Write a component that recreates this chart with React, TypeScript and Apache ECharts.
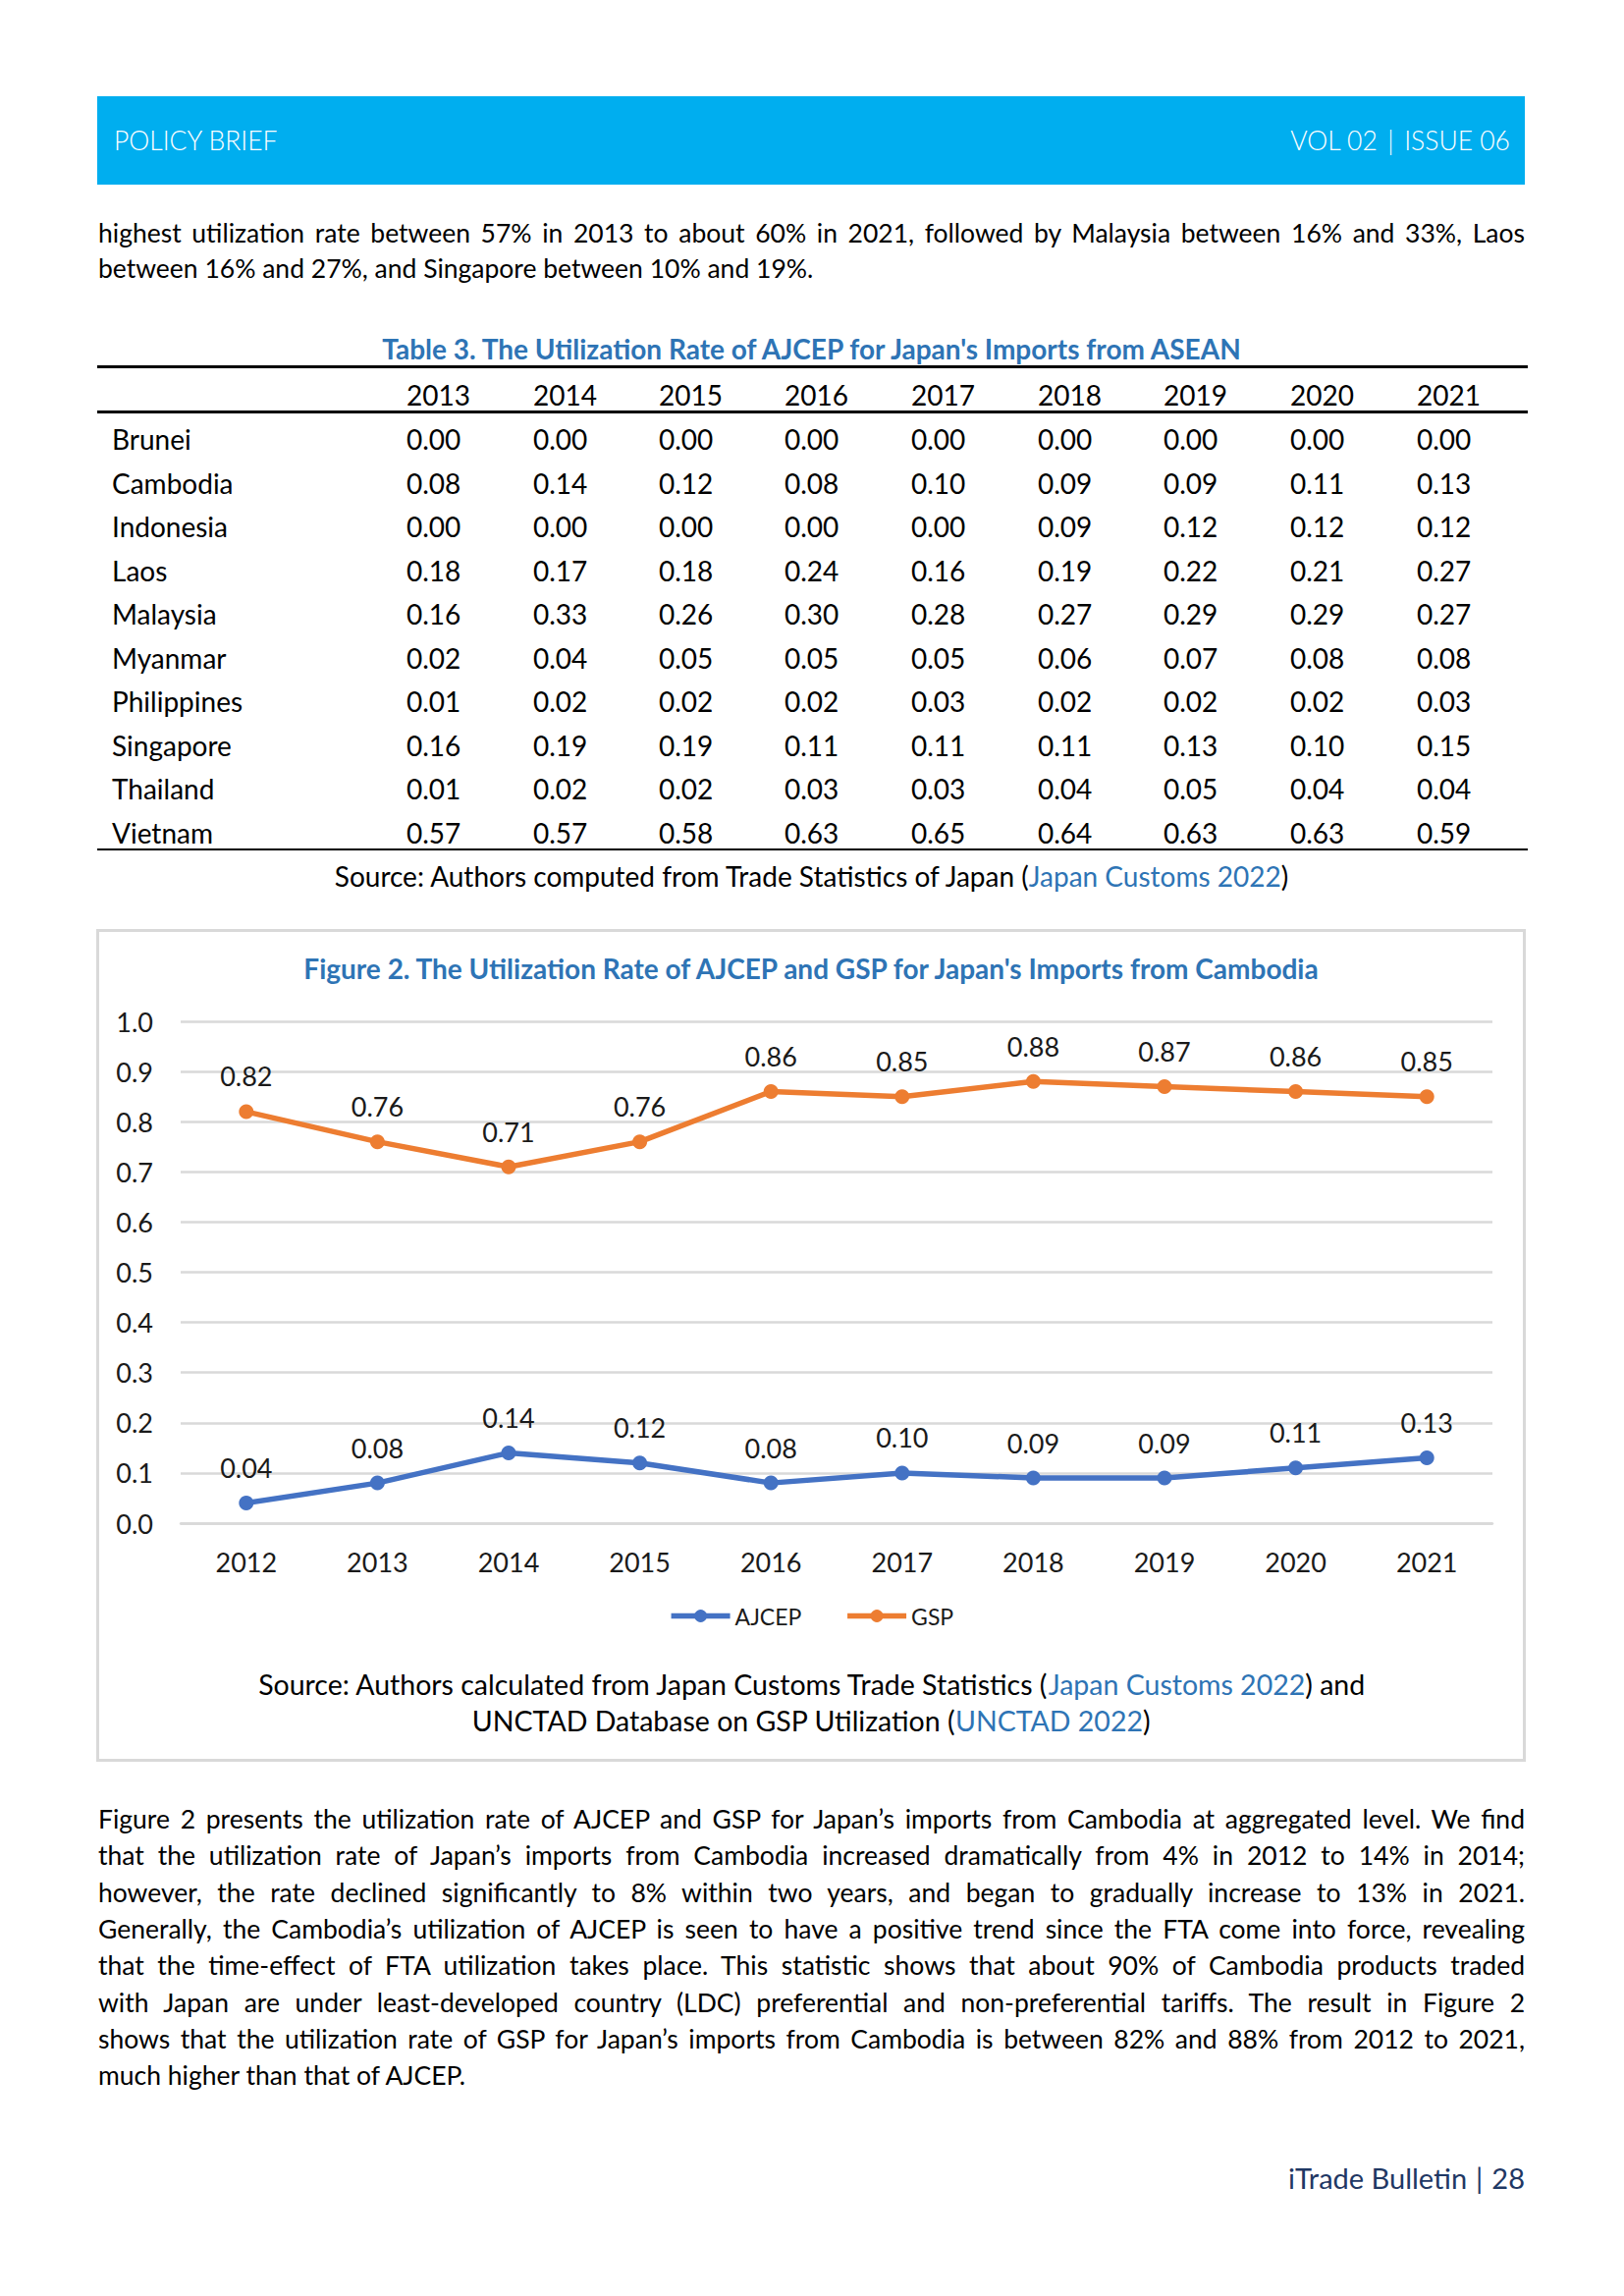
import React, { useEffect, useRef } from "react";
import * as echarts from "echarts";

const FONT = "Lato, 'Open Sans', 'DejaVu Sans', sans-serif";

// ---- Chart data (Figure 2) ----
const years = ["2012", "2013", "2014", "2015", "2016", "2017", "2018", "2019", "2020", "2021"];
const ajcep = [0.04, 0.08, 0.14, 0.12, 0.08, 0.10, 0.09, 0.09, 0.11, 0.13];
const gsp = [0.82, 0.76, 0.71, 0.76, 0.86, 0.85, 0.88, 0.87, 0.86, 0.85];
const yMin = 0;
const yMax = 1.0;
const yStep = 0.1;

// ---- Table 3 data ----
const tableYears = ["2013", "2014", "2015", "2016", "2017", "2018", "2019", "2020", "2021"];
const countries = ["Brunei", "Cambodia", "Indonesia", "Laos", "Malaysia", "Myanmar", "Philippines", "Singapore", "Thailand", "Vietnam"];
const brunei = ["0.00", "0.00", "0.00", "0.00", "0.00", "0.00", "0.00", "0.00", "0.00"];
const cambodia = ["0.08", "0.14", "0.12", "0.08", "0.10", "0.09", "0.09", "0.11", "0.13"];
const indonesia = ["0.00", "0.00", "0.00", "0.00", "0.00", "0.09", "0.12", "0.12", "0.12"];
const laos = ["0.18", "0.17", "0.18", "0.24", "0.16", "0.19", "0.22", "0.21", "0.27"];
const malaysia = ["0.16", "0.33", "0.26", "0.30", "0.28", "0.27", "0.29", "0.29", "0.27"];
const myanmar = ["0.02", "0.04", "0.05", "0.05", "0.05", "0.06", "0.07", "0.08", "0.08"];
const philippines = ["0.01", "0.02", "0.02", "0.02", "0.03", "0.02", "0.02", "0.02", "0.03"];
const singapore = ["0.16", "0.19", "0.19", "0.11", "0.11", "0.11", "0.13", "0.10", "0.15"];
const thailand = ["0.01", "0.02", "0.02", "0.03", "0.03", "0.04", "0.05", "0.04", "0.04"];
const vietnam = ["0.57", "0.57", "0.58", "0.63", "0.65", "0.64", "0.63", "0.63", "0.59"];
const tableRows = [brunei, cambodia, indonesia, laos, malaysia, myanmar, philippines, singapore, thailand, vietnam];

// ---- Text ----
const topLines = [
  "highest utilization rate between 57% in 2013 to about 60% in 2021, followed by Malaysia between 16% and 33%, Laos",
  "between 16% and 27%, and Singapore between 10% and 19%.",
];
const bottomLines = [
  "Figure 2 presents the utilization rate of AJCEP and GSP for Japan\u2019s imports from Cambodia at aggregated level. We find",
  "that the utilization rate of Japan\u2019s imports from Cambodia increased dramatically from 4% in 2012 to 14% in 2014;",
  "however, the rate declined significantly to 8% within two years, and began to gradually increase to 13% in 2021.",
  "Generally, the Cambodia\u2019s utilization of AJCEP is seen to have a positive trend since the FTA come into force, revealing",
  "that the time-effect of FTA utilization takes place. This statistic shows that about 90% of Cambodia products traded",
  "with Japan are under least-developed country (LDC) preferential and non-preferential tariffs. The result in Figure 2",
  "shows that the utilization rate of GSP for Japan\u2019s imports from Cambodia is between 82% and 88% from 2012 to 2021,",
  "much higher than that of AJCEP.",
];

const BLUE_TITLE = "#2E74B5";
const LINK = "#2E74B5";
const TEXT = "#000000";
const PARA_FS = 26.5;
const TABLE_FS = 28;

const colX = [414, 543, 671, 799, 928, 1057, 1185, 1314, 1443];

function Line({ text, top, justify }: { text: string; top: number; justify: boolean }) {
  return (
    <div
      style={{
        position: "absolute",
        left: 100,
        top: top - 19,
        width: 1453,
        height: 38,
        lineHeight: "38px",
        fontSize: PARA_FS,
        whiteSpace: "nowrap",
        textAlign: justify ? "justify" : "left",
        textAlignLast: justify ? "justify" : "left",
        color: TEXT,
      } as any}
    >
      {text}
    </div>
  );
}

function Chart() {
  const ref = useRef<HTMLDivElement>(null);
  useEffect(() => {
    if (!ref.current) return;
    const chart = echarts.init(ref.current, null, { renderer: "svg" });
    const labelStyle = {
      show: true,
      position: "top",
      distance: 15,
      fontSize: 27,
      fontFamily: FONT,
      color: "#1a1a1a",
      formatter: (p: any) => Number(p.value).toFixed(2),
    };
    chart.setOption({
      animation: false,
      textStyle: { fontFamily: FONT },
      title: [
        {
          text: "Figure 2. The Utilization Rate of AJCEP and GSP for Japan's Imports from Cambodia",
          left: "center",
          top: 26,
          padding: 0,
          textStyle: { fontFamily: FONT, fontSize: 28, fontWeight: "bold", color: BLUE_TITLE },
        },
        {
          text:
            "Source: Authors calculated from Japan Customs Trade Statistics ({a|Japan Customs 2022}) and\nUNCTAD Database on GSP Utilization ({a|UNCTAD 2022})",
          left: "center",
          top: 750,
          padding: 0,
          textStyle: {
            fontFamily: FONT,
            fontSize: 28.5,
            fontWeight: "normal",
            color: TEXT,
            lineHeight: 37,
            align: "center",
            rich: {
              a: { fontFamily: FONT, fontSize: 28.5, color: LINK, lineHeight: 37 },
            },
          },
        },
      ],
      legend: {
        data: ["AJCEP", "GSP"],
        left: "center",
        top: 688,
        padding: 0,
        itemWidth: 60,
        itemHeight: 16,
        itemGap: 44,
        lineStyle: { width: 5.5 },
        textStyle: { fontFamily: FONT, fontSize: 23, color: "#1a1a1a" },
      },
      grid: { left: 86, right: 34, top: 94, bottom: 243, containLabel: false, outerBoundsMode: "none" },
      xAxis: {
        type: "category",
        data: years,
        boundaryGap: true,
        axisTick: { show: false },
        axisLine: { show: true, lineStyle: { color: "#D9D9D9", width: 2.5 } },
        axisLabel: { fontFamily: FONT, fontSize: 27, color: "#1a1a1a", margin: 26 },
      },
      yAxis: {
        type: "value",
        min: yMin,
        max: yMax,
        interval: yStep,
        axisLine: { show: false },
        axisTick: { show: false },
        axisLabel: {
          fontFamily: FONT,
          fontSize: 27,
          color: "#1a1a1a",
          margin: 28,
          formatter: (v: number) => v.toFixed(1),
        },
        splitLine: { show: true, lineStyle: { color: "#D9D9D9", width: 2.5 } },
      },
      graphic: [
        {
          type: "rect",
          silent: true,
          shape: { x: 1.5, y: 1.5, width: 1453, height: 845 },
          style: { fill: "none", stroke: "#D9D9D9", lineWidth: 3 },
        },
      ],
      series: [
        {
          name: "AJCEP",
          type: "line",
          data: ajcep,
          color: "#4472C4",
          lineStyle: { width: 5.5, color: "#4472C4" },
          itemStyle: { color: "#4472C4" },
          symbol: "circle",
          symbolSize: 15,
          label: labelStyle,
        },
        {
          name: "GSP",
          type: "line",
          data: gsp,
          color: "#ED7D31",
          lineStyle: { width: 5.5, color: "#ED7D31" },
          itemStyle: { color: "#ED7D31" },
          symbol: "circle",
          symbolSize: 15,
          label: labelStyle,
        },
      ],
    });
    return () => chart.dispose();
  }, []);
  return <div ref={ref} style={{ position: "absolute", left: 98, top: 946, width: 1456, height: 848 }} />;
}

export default function App() {
  const rowTop0 = 447;
  const rowStep = 44.5;
  const cell = (top: number) => ({ position: "absolute" as const, top: top - 19, height: 38, lineHeight: "38px", fontSize: TABLE_FS });
  return (
    <div
      style={{
        position: "absolute",
        left: 0,
        top: 0,
        width: 1654,
        height: 2338,
        background: "#ffffff",
        fontFamily: FONT,
        color: TEXT,
        overflow: "hidden",
      }}
    >
      {/* Header */}
      <div style={{ position: "absolute", left: 99, top: 98, width: 1454, height: 90, background: "#00AEEF" }}>
        <div style={{ position: "absolute", left: 17, top: 0, height: 90, lineHeight: "90px", fontSize: 26.5, fontWeight: 300, color: "#fff" }}>
          POLICY BRIEF
        </div>
        <div style={{ position: "absolute", right: 15, top: 0, height: 90, lineHeight: "90px", fontSize: 26.5, fontWeight: 300, color: "#fff", whiteSpace: "pre" }}>
          {"VOL 02 \u2009|\u2009 ISSUE 06"}
        </div>
      </div>

      {/* Top paragraph */}
      {topLines.map((t, i) => (
        <Line key={"t" + i} text={t} top={237 + i * 36} justify={i < topLines.length - 1} />
      ))}

      {/* Table 3 */}
      <div style={{ position: "absolute", left: 100, top: 355 - 19, width: 1453, height: 38, lineHeight: "38px", textAlign: "center", fontSize: 28, fontWeight: 700, color: BLUE_TITLE }}>
        Table 3. The Utilization Rate of AJCEP for Japan's Imports from ASEAN
      </div>
      <div style={{ position: "absolute", left: 99, top: 372, width: 1457, height: 3, background: "#000" }} />
      <div style={{ position: "absolute", left: 99, top: 417.5, width: 1457, height: 3, background: "#000" }} />
      <div style={{ position: "absolute", left: 99, top: 863.5, width: 1457, height: 2.5, background: "#000" }} />
      {tableYears.map((y, j) => (
        <div key={"y" + j} style={{ ...cell(402), left: colX[j] }}>
          {y}
        </div>
      ))}
      {countries.map((c, i) => (
        <React.Fragment key={"r" + i}>
          <div style={{ ...cell(rowTop0 + i * rowStep), left: 114 }}>{c}</div>
          {tableRows[i].map((v, j) => (
            <div key={"c" + i + "-" + j} style={{ ...cell(rowTop0 + i * rowStep), left: colX[j] }}>
              {v}
            </div>
          ))}
        </React.Fragment>
      ))}
      <div style={{ position: "absolute", left: 100, top: 892 - 19, width: 1453, height: 38, lineHeight: "38px", textAlign: "center", fontSize: TABLE_FS }}>
        Source: Authors computed from Trade Statistics of Japan (<span style={{ color: LINK }}>Japan Customs 2022</span>)
      </div>

      {/* Figure 2 */}
      <Chart />

      {/* Bottom paragraph */}
      {bottomLines.map((t, i) => (
        <Line key={"b" + i} text={t} top={1852 + i * 37.3} justify={i < bottomLines.length - 1} />
      ))}

      {/* Footer */}
      <div style={{ position: "absolute", right: 1654 - 1553, top: 2218 - 19, height: 38, lineHeight: "38px", fontSize: 29, color: "#1F3864", whiteSpace: "pre" }}>
        iTrade Bulletin<span style={{ margin: "0 9px" }}>|</span>28
      </div>
    </div>
  );
}
